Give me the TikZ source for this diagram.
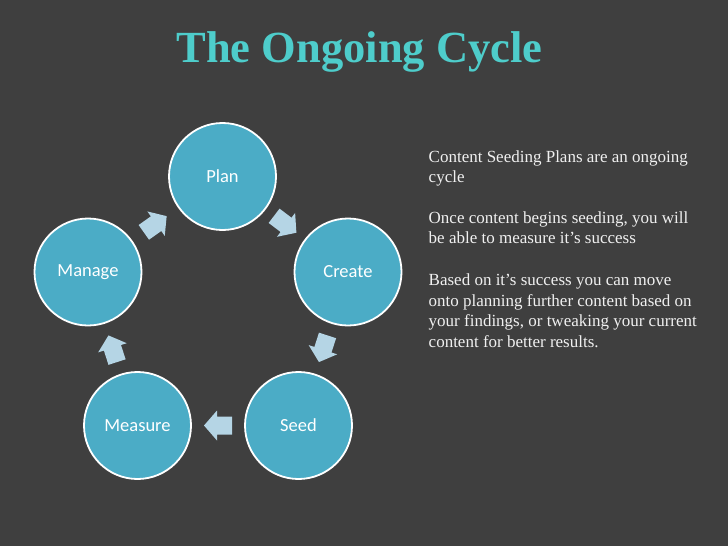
\documentclass[tikz,border=0pt]{standalone}
\usepackage{fontspec}
\setmainfont{Liberation Serif}
\newfontfamily\calibrifont{Carlito}
\usetikzlibrary{calc}
\definecolor{bgcol}{HTML}{3F3F3F}
\definecolor{stagefill}{HTML}{4BACC6}
\definecolor{arrowcol}{HTML}{B5D5E5}
\definecolor{titlecol}{HTML}{4ECDCB}
\definecolor{bodycol}{HTML}{F0F0F0}
\newcommand\cyclearrow[2]{%
  \pgfmathanglebetweenpoints{\pgfpointanchor{#1}{center}}{\pgfpointanchor{#2}{center}}%
  \let\myarrang\pgfmathresult
  \begin{scope}[shift={($(#1)!0.5!(#2)$)}, rotate=\myarrang]
    \fill[arrowcol] (-14,-9) -- (1,-9) -- (1,-15) -- (14,0) -- (1,15) -- (1,9) -- (-14,9) -- cycle;
  \end{scope}}
\begin{document}
\begin{tikzpicture}[x=1pt,y=-1pt,
  stage/.style={circle, draw=white, line width=1.8pt, fill=stagefill, minimum size=107pt,
    inner sep=0pt, text=white, font=\calibrifont\fontsize{18.5}{22}\selectfont},
  bodyline/.style={anchor=base west, inner sep=0pt, text=bodycol, font=\fontsize{17}{20.7}\selectfont},
  titletext/.style={anchor=base, inner sep=0pt, text=titlecol, font=\bfseries\fontsize{44.5}{50}\selectfont}]
\fill[bgcol] (0,0) rectangle (728,546);
\useasboundingbox (0,0) rectangle (728,546);
\node[titletext] (title) at (359.5,62) {The Ongoing Cycle};
\node[stage] (plan) at (222.5,176.5) {Plan};
\node[stage] (create) at (348,272) {Create};
\node[stage] (seed) at (298.5,425.5) {Seed};
\node[stage] (measure) at (137.5,425.5) {Measure};
\node[stage] (manage) at (88,272) {Manage};
\cyclearrow{plan}{create}
\cyclearrow{create}{seed}
\cyclearrow{seed}{measure}
\cyclearrow{measure}{manage}
\cyclearrow{manage}{plan}
\node[bodyline] (l1) at (428.5,162) {Content Seeding Plans are an ongoing};
\node[bodyline] (l2) at (428.5,182.5) {cycle};
\node[bodyline] (l3) at (428.5,223) {Once content begins seeding, you will};
\node[bodyline] (l4) at (428.5,243.5) {be able to measure it’s success};
\node[bodyline] (l5) at (428.5,285) {Based on it’s success you can move};
\node[bodyline] (l6) at (428.5,306) {onto planning further content based on};
\node[bodyline] (l7) at (428.5,326.5) {your findings, or tweaking your current};
\node[bodyline] (l8) at (428.5,347) {content for better results.};
\end{tikzpicture}
\end{document}
